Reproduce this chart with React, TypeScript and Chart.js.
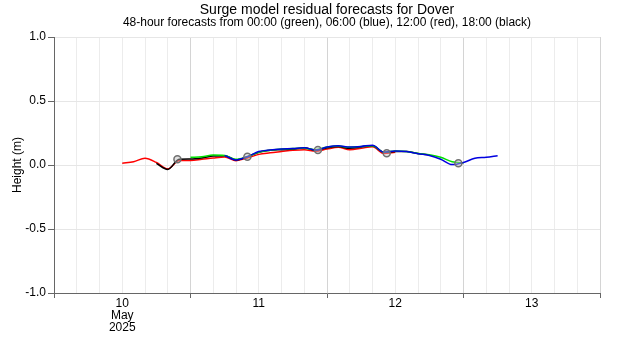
import { useEffect, useRef } from 'react';
import { Chart, registerables } from 'chart.js';

Chart.register(...registerables);

// Hours since 10 May 2025 00:00; each forecast is sampled every 2 hours for 48 hours
const SAMPLE_STEP_HOURS = 2;

// 12:00 forecast (red), from 10 May 12:00
const redStartHour = 12;
const redValues = [0.013, 0.026, 0.052, 0.02, -0.03, 0.035, 0.036, 0.045, 0.055, 0.062, 0.034, 0.055, 0.083, 0.095, 0.105, 0.115, 0.12, 0.108, 0.125, 0.138, 0.12, 0.13, 0.143, 0.09, 0.1];

// 18:00 forecast (black), from 10 May 18:00
const blackStartHour = 18;
const blackValues = [0.013, -0.035, 0.045, 0.047, 0.055, 0.07, 0.073, 0.04, 0.065, 0.1, 0.115, 0.12, 0.125, 0.135, 0.115, 0.135, 0.145, 0.13, 0.14, 0.15, 0.1, 0.105, 0.105, 0.09, 0.078];

// 00:00 forecast (green), from 11 May 00:00
const greenStartHour = 24;
const greenValues = [0.06, 0.065, 0.078, 0.075, 0.045, 0.065, 0.1, 0.115, 0.125, 0.128, 0.13, 0.12, 0.14, 0.148, 0.138, 0.145, 0.15, 0.1, 0.11, 0.105, 0.09, 0.08, 0.06, 0.025, 0.015];

// 06:00 forecast (blue), from 11 May 06:00
const blueStartHour = 30;
const blueValues = [0.075, 0.04, 0.065, 0.105, 0.118, 0.125, 0.128, 0.135, 0.117, 0.14, 0.15, 0.14, 0.145, 0.155, 0.1, 0.11, 0.105, 0.088, 0.075, 0.045, 0.003, 0.02, 0.052, 0.06, 0.073];

// Marked points (circles)
const circleHours = [21.7, 34, 46.4, 58.5, 71.1];
const circleValues = [0.045, 0.065, 0.117, 0.091, 0.013];

// X axis: day boundaries and labels at noon
const xMinHour = 0;
const xMaxHour = 96;
const gridStepHours = 4;
const dayLabelHours = [12, 36, 60, 84];
const dayLabels: (string | string[])[] = [['10', 'May', '2025'], '11', '12', '13'];

// Y axis
const yMin = -1;
const yMax = 1;
const yStep = 0.5;

const titleText = 'Surge model residual forecasts for Dover';
const subtitleText = '48-hour forecasts from 00:00 (green), 06:00 (blue), 12:00 (red), 18:00 (black)';
const yTitle = 'Height (m)';

const FONT = "'Liberation Sans', Arial, sans-serif";

function toPoints(start: number, values: number[]) {
  return values.map((v, i) => ({ x: start + i * SAMPLE_STEP_HOURS, y: v }));
}

export default function App() {
  const ref = useRef<HTMLCanvasElement | null>(null);

  useEffect(() => {
    document.body.style.margin = '0';
    const canvas = ref.current;
    if (!canvas) return;

    const lineDs = (label: string, color: string, start: number, values: number[]) => ({
      type: 'line' as const,
      label,
      data: toPoints(start, values),
      borderColor: color,
      backgroundColor: color,
      borderWidth: 1.5,
      pointRadius: 0,
      tension: 0.4,
      cubicInterpolationMode: 'monotone' as const,
      fill: false,
    });

    const chart = new Chart(canvas, {
      type: 'line',
      data: {
        datasets: [
          {
            type: 'line',
            label: 'markers',
            data: circleHours.map((h, i) => ({ x: h, y: circleValues[i] })),
            showLine: false,
            pointRadius: 3.5,
            pointBorderWidth: 1.5,
            pointBorderColor: '#707070',
            pointBackgroundColor: 'rgba(190,190,190,0.45)',
          } as any,
          lineDs('06:00', '#0000e0', blueStartHour, blueValues),
          lineDs('00:00', '#00e000', greenStartHour, greenValues),
          lineDs('18:00', '#000000', blackStartHour, blackValues),
          lineDs('12:00', '#ff0000', redStartHour, redValues),
        ],
      },
      options: {
        animation: false,
        responsive: false,
        devicePixelRatio: 1,
        layout: { padding: { left: 0, right: 20, top: 0, bottom: 0 } },
        plugins: {
          legend: { display: false },
          tooltip: { enabled: false },
          title: {
            display: true,
            text: titleText,
            fullSize: false,
            color: '#000',
            font: { family: FONT, size: 14, weight: 'normal', lineHeight: 1.0 },
            padding: { top: 3, bottom: 0 },
          },
          subtitle: {
            display: true,
            text: subtitleText,
            fullSize: false,
            color: '#000',
            font: { family: FONT, size: 12, weight: 'normal', lineHeight: 1.0 },
            padding: { top: 0, bottom: 8 },
          },
        },
        scales: {
          x: {
            type: 'linear',
            min: xMinHour,
            max: xMaxHour,
            afterBuildTicks: (scale: any) => {
              const ticks = [];
              for (let h = xMinHour; h <= xMaxHour; h += gridStepHours) ticks.push({ value: h });
              scale.ticks = ticks;
            },
            afterFit: (scale: any) => {
              scale.height = 57;
            },
            ticks: {
              autoSkip: false,
              maxRotation: 0,
              padding: 0,
              color: '#000',
              font: { family: FONT, size: 12, lineHeight: 1.0 },
              callback: (value: any) => {
                const idx = dayLabelHours.indexOf(Number(value));
                return idx >= 0 ? dayLabels[idx] : '';
              },
            },
            grid: {
              drawTicks: true,
              tickLength: 5,
              color: (ctx: any) => (ctx.tick && ctx.tick.value % 24 === 0 ? '#d4d4d4' : '#ececec'),
              tickColor: (ctx: any) => (ctx.tick && ctx.tick.value % 24 === 0 ? '#666666' : 'rgba(0,0,0,0)'),
            },
            border: { color: '#666666', width: 1 },
          },
          y: {
            type: 'linear',
            min: yMin,
            max: yMax,
            afterFit: (scale: any) => {
              scale.width = 54;
            },
            ticks: {
              stepSize: yStep,
              padding: 2,
              color: '#000',
              font: { family: FONT, size: 12 },
              callback: (value: any) => Number(value).toFixed(1),
            },
            grid: {
              drawTicks: true,
              tickLength: 6,
              color: '#e6e6e6',
              tickColor: '#666666',
            },
            border: { color: '#666666', width: 1 },
            title: {
              display: true,
              text: yTitle,
              color: '#000',
              font: { family: FONT, size: 12 },
              padding: { top: 10, bottom: 0 },
            },
          },
        },
      },
    });

    return () => chart.destroy();
  }, []);

  return (
    <div style={{ width: 620, height: 350 }}>
      <canvas ref={ref} width={620} height={350} style={{ display: 'block', width: 620, height: 350 }} />
    </div>
  );
}
